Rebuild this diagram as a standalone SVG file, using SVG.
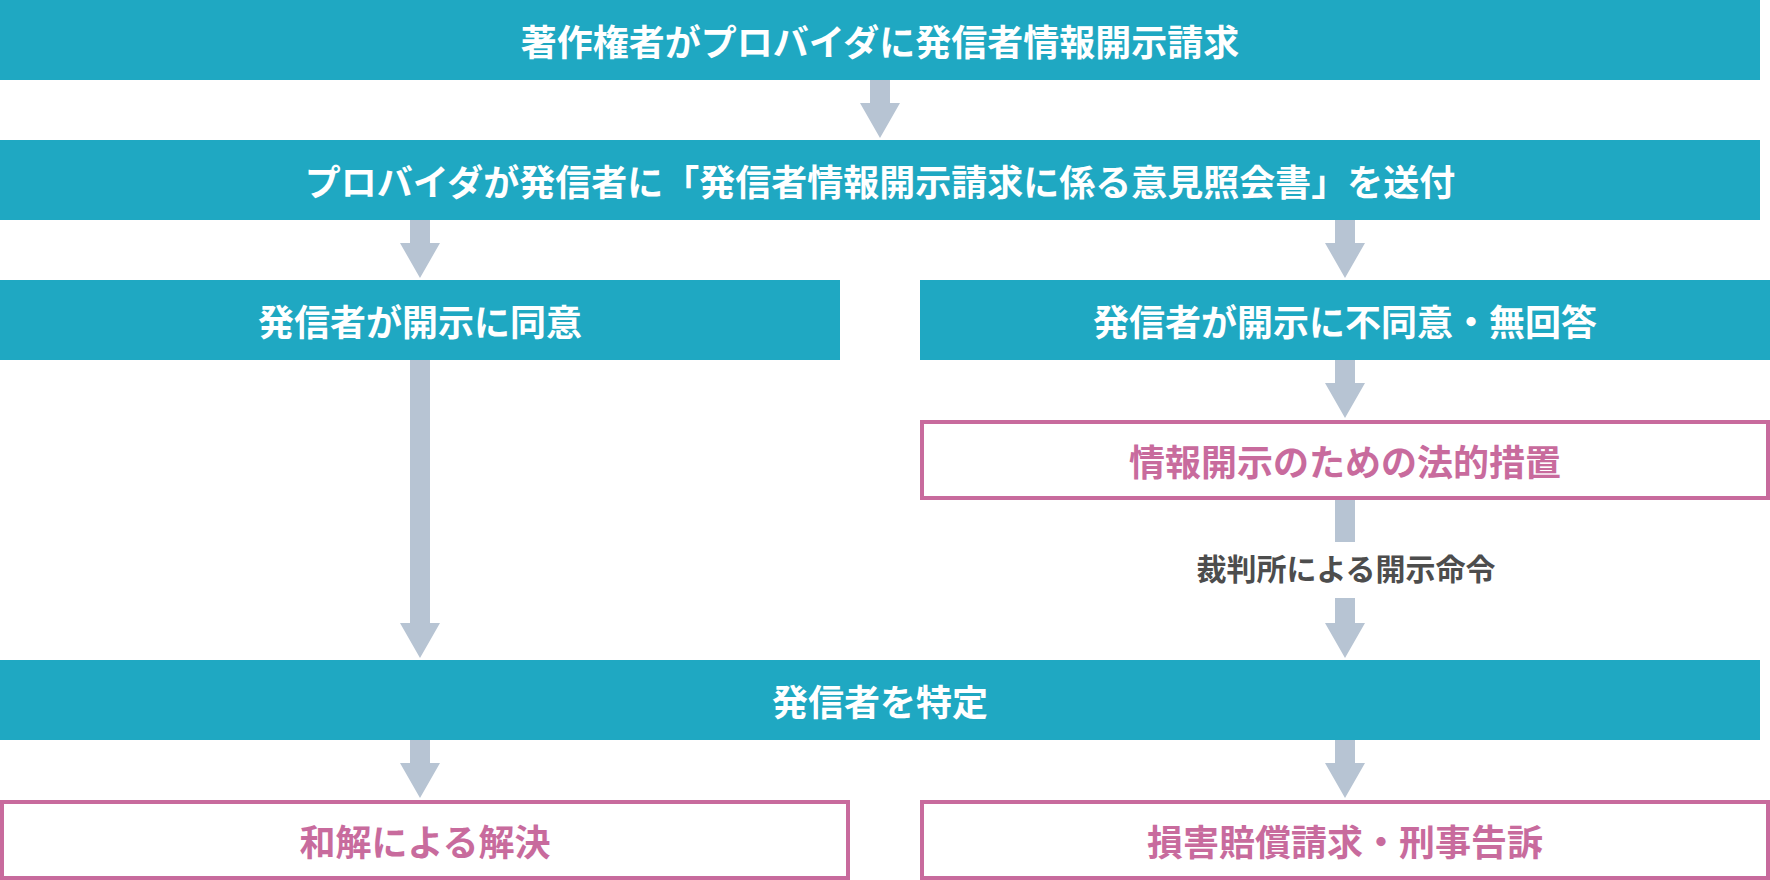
<svg xmlns="http://www.w3.org/2000/svg" width="1770" height="880" viewBox="0 0 1770 880">
  <style>
    .bar { fill: #1fa8c2; }
    .pbox { fill: #ffffff; stroke: #c86b9d; stroke-width: 4; }
    .arrow { fill: #b7c4d3; }
    text { font-family: "Noto Sans CJK JP", "Noto Sans", sans-serif; font-weight: 700; text-anchor: middle; dominant-baseline: central; }
    .wt { fill: #ffffff; font-size: 36px; }
    .pt { fill: #c86b9d; font-size: 36px; }
    .lt { fill: #4d4d4d; font-size: 30px; }
  </style>
  <rect width="1770" height="880" fill="#ffffff"/>

  <g id="connectors">
    <polygon class="arrow" points="870,80 890,80 890,103 900,103 880,138 860,103 870,103"/>
    <polygon class="arrow" points="410,220 430,220 430,243 440,243 420,278 400,243 410,243"/>
    <polygon class="arrow" points="1335,220 1355,220 1355,243 1365,243 1345,278 1325,243 1335,243"/>
    <polygon class="arrow" points="410,360 430,360 430,623 440,623 420,658 400,623 410,623"/>
    <polygon class="arrow" points="1335,360 1355,360 1355,383 1365,383 1345,418 1325,383 1335,383"/>
    <rect class="arrow" x="1335" y="500" width="20" height="42"/>
    <polygon class="arrow" points="1335,598 1355,598 1355,623 1365,623 1345,658 1325,623 1335,623"/>
    <polygon class="arrow" points="410,740 430,740 430,763 440,763 420,798 400,763 410,763"/>
    <polygon class="arrow" points="1335,740 1355,740 1355,763 1365,763 1345,798 1325,763 1335,763"/>
    <text class="lt" x="1346" y="567">裁判所による開示命令</text>
  </g>

  <g id="n1">
    <rect class="bar" x="0" y="0" width="1760" height="80"/>
    <text class="wt" x="880" y="40">著作権者がプロバイダに発信者情報開示請求</text>
  </g>
  <g id="n2">
    <rect class="bar" x="0" y="140" width="1760" height="80"/>
    <text class="wt" x="880" y="180">プロバイダが発信者に「発信者情報開示請求に係る意見照会書」を送付</text>
  </g>
  <g id="n3">
    <rect class="bar" x="0" y="280" width="840" height="80"/>
    <text class="wt" x="420" y="320">発信者が開示に同意</text>
  </g>
  <g id="n4">
    <rect class="bar" x="920" y="280" width="850" height="80"/>
    <text class="wt" x="1345" y="320">発信者が開示に不同意・無回答</text>
  </g>
  <g id="n5">
    <rect class="pbox" x="922" y="422" width="846" height="76"/>
    <text class="pt" x="1345" y="460">情報開示のための法的措置</text>
  </g>
  <g id="n6">
    <rect class="bar" x="0" y="660" width="1760" height="80"/>
    <text class="wt" x="880" y="700">発信者を特定</text>
  </g>
  <g id="n7">
    <rect class="pbox" x="2" y="802" width="846" height="76"/>
    <text class="pt" x="425" y="840">和解による解決</text>
  </g>
  <g id="n8">
    <rect class="pbox" x="922" y="802" width="846" height="76"/>
    <text class="pt" x="1345" y="840">損害賠償請求・刑事告訴</text>
  </g>
</svg>
